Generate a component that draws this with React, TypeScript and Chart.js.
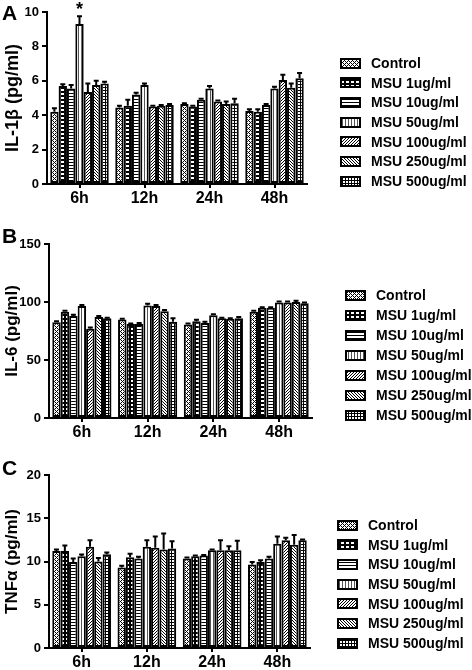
import React, { useEffect, useRef } from 'react';
import { Chart, registerables } from 'chart.js';

Chart.register(...registerables);

const FONT = '"Liberation Sans", Arial, Helvetica, sans-serif';

const timepoints = ['6h', '12h', '24h', '48h'];
const seriesNames = [
  'Control',
  'MSU 1ug/ml',
  'MSU 10ug/ml',
  'MSU 50ug/ml',
  'MSU 100ug/ml',
  'MSU 250ug/ml',
  'MSU 500ug/ml',
];

// IL-1β (pg/ml): one row per series, values at 6h, 12h, 24h, 48h
const il1bMeans = [
  [4.2, 4.45, 4.65, 4.25],
  [5.7, 4.55, 4.5, 4.2],
  [5.55, 5.2, 4.9, 4.6],
  [9.3, 5.75, 5.55, 5.55],
  [5.35, 4.5, 4.8, 6.05],
  [5.75, 4.55, 4.65, 5.6],
  [5.85, 4.6, 4.7, 6.15],
];
const il1bErrors = [
  [0.2, 0.1, 0.05, 0.1],
  [0.1, 0.35, 0.05, 0.15],
  [0.2, 0.1, 0.05, 0.05],
  [0.45, 0.1, 0.15, 0.1],
  [0.5, 0.05, 0.05, 0.3],
  [0.25, 0.05, 0.15, 0.25],
  [0.1, 0.05, 0.25, 0.3],
];

// IL-6 (pg/ml)
const il6Means = [
  [82.5, 85, 80.5, 91.5],
  [91.5, 81, 83.5, 95],
  [88, 81, 82, 95],
  [96.5, 97, 88.5, 99.5],
  [77, 96.5, 86, 99.5],
  [87, 92, 85.5, 100],
  [86, 83, 86, 99],
];
const il6Errors = [
  [1, 0.5, 1, 1],
  [1, 0.5, 1.2, 0.5],
  [1, 1, 1, 0.5],
  [1, 1.5, 1, 1],
  [1, 1, 0.5, 1],
  [1, 1, 0.5, 1],
  [0.5, 3, 1, 0.5],
];

// TNFα (pg/ml)
const tnfMeans = [
  [11.2, 9.3, 10.35, 9.65],
  [11.2, 10.5, 10.6, 9.95],
  [9.95, 10.35, 10.7, 10.35],
  [10.6, 11.7, 11.3, 12.05],
  [11.7, 11.6, 11.3, 12.45],
  [10.0, 11.4, 11.3, 11.95],
  [10.85, 11.5, 11.3, 12.45],
];
const tnfErrors = [
  [0.2, 0.2, 0.1, 0.3],
  [0.65, 0.4, 0.1, 0.2],
  [0.4, 0.2, 0.05, 0.2],
  [0.2, 0.75, 0.1, 0.85],
  [0.75, 1.3, 1.15, 0.3],
  [0.4, 1.85, 0.45, 1.1],
  [0.2, 0.85, 1.1, 0.1],
];

const yTitles = ['IL-1\u03B2 (pg/ml)', 'IL-6 (pg/ml)', 'TNF\u03B1 (pg/ml)'];
const panelLetters = ['A', 'B', 'C'];
const yMaxes = [10, 150, 20];
const ySteps = [2, 50, 5];

type Layout = {
  top: number;
  height: number;
  areaTop: number;
  areaBottom: number;
  areaLeft: number;
  areaRight: number;
  legendBoxX: number;
  legendTextX: number;
  legendY: number;
  legendStep: number;
  letterBaseline: number;
  titleSize: number;
};

const layouts: Layout[] = [
  { top: 0, height: 215, areaTop: 12, areaBottom: 184, areaLeft: 47, areaRight: 307, legendBoxX: 341, legendTextX: 371, legendY: 63, legendStep: 19.7, letterBaseline: 20, titleSize: 18 },
  { top: 215, height: 230, areaTop: 29, areaBottom: 203, areaLeft: 49, areaRight: 312, legendBoxX: 346, legendTextX: 376, legendY: 80, legendStep: 20, letterBaseline: 28, titleSize: 17 },
  { top: 445, height: 225, areaTop: 30, areaBottom: 203, areaLeft: 49, areaRight: 310, legendBoxX: 338, legendTextX: 368, legendY: 80, legendStep: 19.7, letterBaseline: 30, titleSize: 17 },
];

function tile(w: number, h: number, bg: string, draw: (ctx: CanvasRenderingContext2D) => void): CanvasPattern {
  const c = document.createElement('canvas');
  c.width = w;
  c.height = h;
  const ctx = c.getContext('2d') as CanvasRenderingContext2D;
  ctx.fillStyle = bg;
  ctx.fillRect(0, 0, w, h);
  draw(ctx);
  return ctx.createPattern(c, 'repeat') as CanvasPattern;
}

function makePatterns(): CanvasPattern[] {
  const px = (ctx: CanvasRenderingContext2D, x: number, y: number, color = '#000') => {
    ctx.fillStyle = color;
    ctx.fillRect(x, y, 1, 1);
  };
  return [
    // Control: fine cross-hatch
    tile(4, 4, '#fff', (ctx) => {
      for (let x = 0; x < 4; x++)
        for (let y = 0; y < 4; y++)
          if ((x + y) % 4 === 0 || (x - y + 4) % 4 === 0) px(ctx, x, y);
    }),
    // 1ug: white dots on black
    tile(5, 4, '#000', (ctx) => {
      ctx.fillStyle = '#fff';
      ctx.fillRect(1, 1, 3, 2);
    }),
    // 10ug: horizontal lines
    tile(1, 3, '#fff', (ctx) => {
      px(ctx, 0, 0);
    }),
    // 50ug: vertical lines
    tile(3, 1, '#fff', (ctx) => {
      px(ctx, 0, 0, '#555');
    }),
    // 100ug: forward diagonal
    tile(3, 3, '#fff', (ctx) => {
      for (let x = 0; x < 3; x++)
        for (let y = 0; y < 3; y++) if ((x + y) % 3 === 0) px(ctx, x, y);
    }),
    // 250ug: back diagonal, dense
    tile(3, 3, '#fff', (ctx) => {
      for (let x = 0; x < 3; x++)
        for (let y = 0; y < 3; y++) if ((x - y + 3) % 3 === 0) px(ctx, x, y);
    }),
    // 500ug: grid
    tile(3, 3, '#fff', (ctx) => {
      for (let x = 0; x < 3; x++)
        for (let y = 0; y < 3; y++) if (x === 0 || y === 0) px(ctx, x, y);
    }),
  ];
}

function Panel({ idx, means, errors, star }: { idx: number; means: number[][]; errors: number[][]; star?: [number, number] }) {
  const ref = useRef<HTMLCanvasElement | null>(null);
  const L = layouts[idx];

  useEffect(() => {
    const canvas = ref.current;
    if (!canvas) return;
    const patterns = makePatterns();

    const extras = {
      id: 'extras' + idx,
      afterDatasetsDraw(chart: any) {
        const ctx = chart.ctx as CanvasRenderingContext2D;
        const yScale = chart.scales.y;
        ctx.save();
        ctx.strokeStyle = '#000';
        ctx.lineWidth = 2;
        ctx.lineCap = 'butt';
        chart.data.datasets.forEach((ds: any, i: number) => {
          const meta = chart.getDatasetMeta(i);
          meta.data.forEach((el: any, j: number) => {
            const v = means[i][j];
            const e = errors[i][j];
            const y0 = yScale.getPixelForValue(v);
            const y1 = yScale.getPixelForValue(v + e);
            ctx.beginPath();
            ctx.moveTo(el.x, y0);
            ctx.lineTo(el.x, y1);
            ctx.moveTo(el.x - 2.5, y1);
            ctx.lineTo(el.x + 2.5, y1);
            ctx.stroke();
          });
        });
        if (star) {
          const el = chart.getDatasetMeta(star[0]).data[star[1]];
          const v = means[star[0]][star[1]] + errors[star[0]][star[1]];
          const yTop = yScale.getPixelForValue(v);
          ctx.fillStyle = '#000';
          ctx.font = `bold 18px ${FONT}`;
          ctx.textAlign = 'center';
          ctx.textBaseline = 'alphabetic';
          ctx.fillText('*', el.x, yTop - 1);
        }
        ctx.restore();
      },
      afterDraw(chart: any) {
        const ctx = chart.ctx as CanvasRenderingContext2D;
        ctx.save();
        // panel letter
        ctx.fillStyle = '#000';
        ctx.font = `bold 21px ${FONT}`;
        ctx.textAlign = 'left';
        ctx.textBaseline = 'alphabetic';
        ctx.fillText(panelLetters[idx], 2, L.letterBaseline);
        // legend
        seriesNames.forEach((name, i) => {
          const cy = L.legendY + i * L.legendStep;
          const bw = 19;
          const bh = 9;
          const bx = L.legendBoxX;
          const by = Math.round(cy - bh / 2);
          ctx.fillStyle = patterns[i];
          ctx.fillRect(bx, by, bw, bh);
          ctx.strokeStyle = '#000';
          ctx.lineWidth = 2;
          ctx.strokeRect(bx, by, bw, bh);
          ctx.fillStyle = '#000';
          ctx.font = `bold 14px ${FONT}`;
          ctx.textAlign = 'left';
          ctx.textBaseline = 'middle';
          ctx.fillText(name, L.legendTextX, cy + 1);
        });
        ctx.restore();
      },
    };

    const chart = new Chart(canvas, {
      type: 'bar',
      data: {
        labels: timepoints,
        datasets: seriesNames.map((name, i) => ({
          label: name,
          data: means[i],
          backgroundColor: patterns[i] as any,
          borderColor: '#000',
          borderWidth: 2,
          borderSkipped: false,
          categoryPercentage: 0.9,
          barPercentage: 1,
        })),
      },
      options: {
        responsive: false,
        animation: false,
        devicePixelRatio: 1,
        layout: { padding: { top: L.areaTop, right: 472 - L.areaRight, left: 0, bottom: 0 } },
        plugins: { legend: { display: false }, tooltip: { enabled: false }, title: { display: false } },
        scales: {
          x: {
            grid: { display: true, drawOnChartArea: false, drawTicks: true, tickLength: 4, offset: false, color: '#000', lineWidth: 2 },
            border: { display: true, color: '#000', width: 2 },
            ticks: { color: '#000', font: { family: FONT, size: 16, weight: 'bold' }, padding: 1, maxRotation: 0 },
            afterFit: (s: any) => {
              s.height = L.height - L.areaBottom;
            },
          },
          y: {
            min: 0,
            max: yMaxes[idx],
            ticks: { stepSize: ySteps[idx], color: '#000', font: { family: FONT, size: 13, weight: 'bold' }, padding: 3 },
            grid: { display: true, drawOnChartArea: false, drawTicks: true, tickLength: 5, color: '#000', lineWidth: 2 },
            border: { display: true, color: '#000', width: 2 },
            title: {
              display: true,
              text: yTitles[idx],
              color: '#000',
              font: { family: FONT, size: L.titleSize, weight: 'bold' },
              padding: { top: 2, bottom: 0 },
            },
            afterFit: (s: any) => {
              s.width = L.areaLeft;
            },
          },
        },
      } as any,
      plugins: [extras],
    });
    return () => chart.destroy();
  }, []);

  return (
    <canvas
      ref={ref}
      width={472}
      height={L.height}
      style={{ position: 'absolute', left: 0, top: L.top, width: 472, height: L.height, display: 'block' }}
    />
  );
}

export default function App() {
  return (
    <div style={{ position: 'fixed', left: 0, top: 0, width: 472, height: 670, background: '#fff', overflow: 'hidden' }}>
      <Panel idx={0} means={il1bMeans} errors={il1bErrors} star={[3, 0]} />
      <Panel idx={1} means={il6Means} errors={il6Errors} />
      <Panel idx={2} means={tnfMeans} errors={tnfErrors} />
    </div>
  );
}
